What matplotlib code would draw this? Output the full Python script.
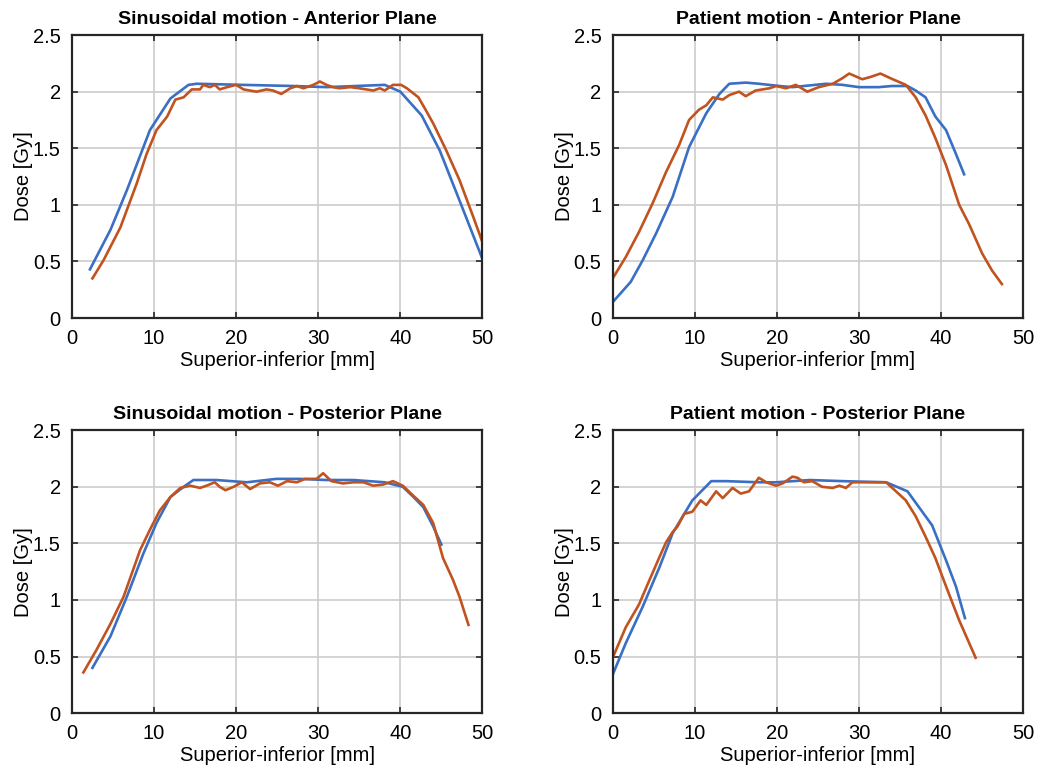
import numpy as np
import matplotlib
matplotlib.use("Agg")
import matplotlib.pyplot as plt

plt.rcParams["font.family"] = ["Liberation Sans", "DejaVu Sans"]

BLUE = "#3a6fc4"
ORANGE = "#c0531f"

# Sinusoidal motion - Anterior Plane
sa_blue_x = [2.2, 4.7, 6.7, 9.5, 12.0, 14.2, 15.2, 20.9, 27.0, 31.0, 38.1, 40.0, 42.6, 44.8, 47.2, 49.9]
sa_blue_y = [0.43, 0.78, 1.13, 1.66, 1.94, 2.06, 2.07, 2.06, 2.05, 2.04, 2.06, 2.00, 1.79, 1.48, 1.04, 0.54]
sa_red_x = [2.5, 3.85, 5.9, 7.9, 9.1, 10.3, 11.6, 12.6, 13.6, 14.6, 15.6, 16.0, 16.8, 17.4, 18.0, 18.9,
            20.0, 20.9, 22.5, 23.7, 24.5, 25.5, 26.6, 27.4, 28.2, 29.4, 30.2, 31.0, 31.8, 32.6, 33.9,
            35.0, 36.7, 37.5, 38.1, 38.7, 39.1, 40.1, 40.8, 42.2, 43.0, 44.0, 45.6, 47.2, 48.9, 50.0]
sa_red_y = [0.35, 0.51, 0.80, 1.19, 1.45, 1.66, 1.78, 1.93, 1.95, 2.02, 2.02, 2.06, 2.04, 2.06, 2.02, 2.04,
            2.06, 2.02, 2.00, 2.02, 2.01, 1.98, 2.03, 2.05, 2.03, 2.06, 2.09, 2.06, 2.04, 2.03, 2.04,
            2.03, 2.01, 2.03, 2.01, 2.04, 2.06, 2.06, 2.03, 1.95, 1.85, 1.72, 1.48, 1.22, 0.89, 0.67]

# Patient motion - Anterior Plane
pa_blue_x = [0.0, 2.2, 3.65, 5.3, 7.3, 9.3, 11.4, 13.0, 14.2, 16.2, 17.8, 20.3, 21.9, 26.0, 28.0,
             30.0, 32.4, 34.0, 35.9, 36.9, 38.1, 39.3, 40.6, 41.8, 42.8]
pa_blue_y = [0.14, 0.32, 0.51, 0.75, 1.07, 1.51, 1.81, 1.98, 2.07, 2.08, 2.07, 2.05, 2.04, 2.07, 2.06,
             2.04, 2.04, 2.05, 2.05, 2.01, 1.95, 1.78, 1.66, 1.45, 1.27]
pa_red_x = [0.0, 1.6, 3.2, 4.9, 6.5, 8.1, 9.3, 10.5, 11.4, 12.2, 13.4, 14.2, 15.4, 16.2, 17.4, 19.1,
            19.9, 21.1, 22.3, 23.7, 25.1, 26.8, 28.0, 28.8, 30.4, 31.4, 32.6, 34.1, 35.7, 36.9, 38.1,
            39.3, 40.6, 42.2, 43.4, 45.0, 46.2, 47.4]
pa_red_y = [0.35, 0.54, 0.76, 1.02, 1.29, 1.53, 1.75, 1.84, 1.88, 1.95, 1.93, 1.97, 2.00, 1.96, 2.01, 2.03,
            2.05, 2.03, 2.06, 2.00, 2.04, 2.07, 2.12, 2.16, 2.11, 2.13, 2.16, 2.11, 2.06, 1.95, 1.79,
            1.59, 1.35, 1.00, 0.83, 0.57, 0.42, 0.30]

# Sinusoidal motion - Posterior Plane
sp_blue_x = [2.5, 4.7, 6.7, 8.7, 10.3, 12.0, 13.6, 14.8, 17.6, 21.3, 24.9, 27.8, 31.0, 34.3, 38.1,
             40.3, 41.6, 42.8, 44.0, 45.0]
sp_blue_y = [0.40, 0.68, 1.03, 1.41, 1.68, 1.91, 2.00, 2.06, 2.06, 2.04, 2.07, 2.07, 2.06, 2.06, 2.04,
             2.00, 1.91, 1.82, 1.65, 1.49]
sp_red_x = [1.4, 3.0, 4.7, 6.3, 8.3, 9.5, 10.7, 12.0, 13.2, 14.4, 15.6, 16.4, 17.4, 18.0, 18.7, 19.7,
            20.7, 21.7, 22.9, 24.1, 25.1, 26.2, 27.4, 28.4, 29.8, 30.6, 31.6, 33.0, 34.3, 35.5, 36.7,
            37.9, 39.1, 40.3, 41.6, 42.8, 44.0, 45.2, 46.4, 47.2, 48.3]
sp_red_y = [0.36, 0.56, 0.79, 1.03, 1.44, 1.62, 1.79, 1.91, 1.99, 2.01, 1.99, 2.01, 2.04, 2.00, 1.97, 2.00,
            2.04, 1.98, 2.03, 2.04, 2.01, 2.05, 2.04, 2.07, 2.07, 2.12, 2.05, 2.03, 2.04, 2.04, 2.01,
            2.02, 2.05, 2.01, 1.92, 1.84, 1.68, 1.37, 1.18, 1.03, 0.78]

# Patient motion - Posterior Plane
pp_blue_x = [0.0, 1.6, 3.65, 5.7, 7.3, 9.7, 12.0, 13.8, 17.8, 19.9, 24.0, 28.0, 33.3, 35.9, 37.3,
             38.9, 40.6, 41.8, 42.9]
pp_blue_y = [0.34, 0.62, 0.94, 1.29, 1.59, 1.88, 2.05, 2.05, 2.04, 2.04, 2.06, 2.05, 2.04, 1.96, 1.82,
             1.66, 1.35, 1.12, 0.84]
pp_red_x = [0.0, 1.6, 3.2, 4.5, 5.7, 6.5, 7.3, 7.9, 8.7, 9.7, 10.7, 11.4, 12.6, 13.4, 14.6, 15.6,
            16.6, 17.8, 18.7, 19.9, 20.7, 21.9, 22.5, 23.3, 24.3, 25.5, 26.8, 27.6, 28.4, 29.2, 31.2,
            33.3, 34.5, 35.7, 36.9, 38.1, 39.3, 40.6, 42.2, 44.2]
pp_red_y = [0.49, 0.76, 0.96, 1.18, 1.38, 1.51, 1.60, 1.65, 1.76, 1.78, 1.88, 1.84, 1.96, 1.90, 1.99, 1.94,
            1.96, 2.08, 2.04, 2.01, 2.03, 2.09, 2.08, 2.04, 2.05, 2.00, 1.99, 2.01, 1.99, 2.04, 2.04,
            2.04, 1.96, 1.88, 1.74, 1.56, 1.37, 1.12, 0.82, 0.49]

titles = ["Sinusoidal motion - Anterior Plane", "Patient motion - Anterior Plane",
          "Sinusoidal motion - Posterior Plane", "Patient motion - Posterior Plane"]
series = [(sa_blue_x, sa_blue_y, sa_red_x, sa_red_y),
          (pa_blue_x, pa_blue_y, pa_red_x, pa_red_y),
          (sp_blue_x, sp_blue_y, sp_red_x, sp_red_y),
          (pp_blue_x, pp_blue_y, pp_red_x, pp_red_y)]

fig = plt.figure(figsize=(10.42, 7.71), dpi=100)
positions = [[0.069, 0.5875, 0.394, 0.367], [0.588, 0.5875, 0.394, 0.367],
             [0.069, 0.075, 0.394, 0.367], [0.588, 0.075, 0.394, 0.367]]

for pos, title, (bx, by, rx, ry) in zip(positions, titles, series):
    ax = fig.add_axes(pos)
    ax.plot(bx, by, color=BLUE, lw=1.9)
    ax.plot(rx, ry, color=ORANGE, lw=1.9)
    ax.set_xlim(0, 50)
    ax.set_ylim(0, 2.5)
    ax.set_xticks([0, 10, 20, 30, 40, 50])
    ax.set_yticks([0, 0.5, 1, 1.5, 2, 2.5])
    ax.set_yticklabels(["0", "0.5", "1", "1.5", "2", "2.5"])
    ax.grid(True, color="#cccccc", lw=1.2)
    ax.set_axisbelow(True)
    for s in ax.spines.values():
        s.set_color("#262626")
        s.set_linewidth(1.6)
    ax.tick_params(direction="in", top=True, right=True, length=4, width=1.2,
                   color="#262626", labelsize=14.5, pad=8)
    ax.set_title(title, fontsize=14, fontweight="bold", pad=8)
    ax.set_xlabel("Superior-inferior [mm]", fontsize=14.5, labelpad=2)
    ax.set_ylabel("Dose [Gy]", fontsize=14.5, labelpad=0)

fig.savefig("out.png", dpi=100)
